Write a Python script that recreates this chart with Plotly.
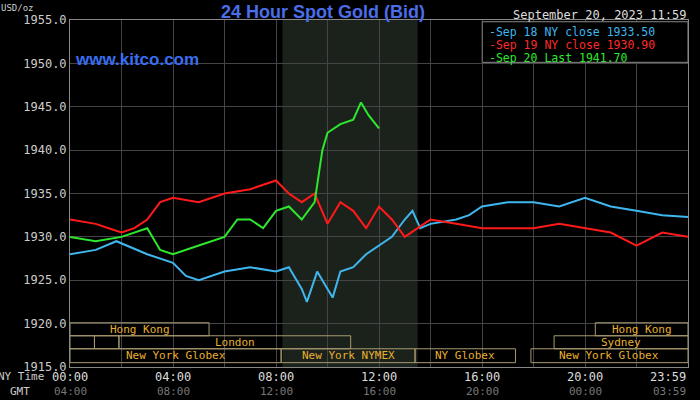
import plotly.graph_objects as go

# hours since 00:00 NY time
sep18_t = [0, 1, 1.8, 3, 4, 4.5, 5, 6, 7, 8, 8.5, 9, 9.2, 9.6, 10, 10.2, 10.5, 11, 11.5, 12,
           12.5, 13, 13.3, 13.6, 14, 15, 15.5, 16, 17, 18, 19, 20, 21, 22, 23, 24]
sep18_v = [1928, 1928.5, 1929.5, 1928, 1927, 1925.5, 1925, 1926, 1926.5, 1926, 1926.5, 1924,
           1922.5, 1926, 1924, 1923, 1926, 1926.5, 1928, 1929, 1930, 1932, 1933, 1931, 1931.5,
           1932, 1932.5, 1933.5, 1934, 1934, 1933.5, 1934.5, 1933.5, 1933, 1932.5, 1932.3]
sep19_t = [0, 1, 1.5, 2, 2.5, 3, 3.5, 4, 5, 6, 7, 7.5, 8, 8.5, 9, 9.5, 10, 10.5, 11, 11.5, 12,
           12.5, 13, 13.5, 14, 15, 16, 17, 18, 19, 20, 21, 22, 23, 24]
sep19_v = [1932, 1931.5, 1931, 1930.5, 1931, 1932, 1934, 1934.5, 1934, 1935, 1935.5, 1936,
           1936.5, 1935, 1934, 1935, 1931.5, 1934, 1933, 1931, 1933.5, 1932, 1930, 1931, 1932,
           1931.5, 1931, 1931, 1931, 1931.5, 1931, 1930.5, 1929, 1930.5, 1930]
sep20_t = [0, 1, 2, 3, 3.5, 4, 5, 6, 6.5, 7, 7.5, 8, 8.5, 9, 9.5, 9.8, 10, 10.5, 11, 11.3, 11.6, 12]
sep20_v = [1930, 1929.5, 1930, 1931, 1928.5, 1928, 1929, 1930, 1932, 1932, 1931, 1933, 1933.5,
           1932, 1934, 1940, 1942, 1943, 1943.5, 1945.5, 1944, 1942.5]

tick_hours = [0, 4, 8, 12, 16, 20, 24]
ny_labels = ["00:00", "04:00", "08:00", "12:00", "16:00", "20:00", "23:59"]
gmt_labels = ["04:00", "08:00", "12:00", "16:00", "20:00", "00:00", "03:59"]
y_ticks = [1915, 1920, 1925, 1930, 1935, 1940, 1945, 1950, 1955]

# sessions: (row, start, end, label)
sessions = [(0, 0, 5.4, "Hong Kong"), (0, 20.4, 24, "Hong Kong"),
            (1, 0, 0.95, ""), (1, 0.95, 1.9, ""), (1, 1.9, 10.9, "London"), (1, 18.8, 24, "Sydney"),
            (2, 0, 8.2, "New York Globex"), (2, 8.2, 13.4, "New York NYMEX"),
            (2, 13.4, 17.3, "NY Globex"), (2, 17.9, 24, "New York Globex")]
row_y = [(1920.1, 1918.6), (1918.6, 1917.1), (1917.1, 1915.5)]

MONO = "DejaVu Sans Mono"
fig = go.Figure()
fig.add_trace(go.Scatter(x=sep18_t, y=sep18_v, mode="lines", line=dict(color="#3fb6ee", width=2)))
fig.add_trace(go.Scatter(x=sep19_t, y=sep19_v, mode="lines", line=dict(color="#ff1a1a", width=2)))
fig.add_trace(go.Scatter(x=sep20_t, y=sep20_v, mode="lines", line=dict(color="#2ee82e", width=2)))

shapes = [dict(type="rect", xref="x", yref="paper", x0=8.25, x1=13.5, y0=0, y1=1,
               fillcolor="#1b221b", line_width=0, layer="below")]
ann = []
for row, a, b, lab in sessions:
    y0, y1 = row_y[row]
    shapes.append(dict(type="rect", x0=a, x1=b, y0=y1, y1=y0, line=dict(color="#a89a70", width=1)))
    if lab:
        ann.append(dict(x=(a + b) / 2, y=(y0 + y1) / 2, text=lab, showarrow=False,
                        font=dict(family=MONO, size=11, color="#e8b030")))
for h, n, g in zip(tick_hours, ny_labels, gmt_labels):
    anchor = "right" if h == 24 else "center"
    ann.append(dict(x=h, y=-0.003, yref="paper", yanchor="top", xanchor=anchor, text=n,
                    showarrow=False, font=dict(family=MONO, size=12, color="#dddddd")))
    ann.append(dict(x=h, y=-0.047, yref="paper", yanchor="top", xanchor=anchor, text=g,
                    showarrow=False, font=dict(family=MONO, size=11, color="#777777")))
ann += [
    dict(x=0, xref="paper", xanchor="right", xshift=-24, y=-0.003, yref="paper", yanchor="top",
         text="NY Time", showarrow=False, font=dict(family=MONO, size=11, color="#cccccc")),
    dict(x=0, xref="paper", xanchor="right", xshift=-38, y=-0.047, yref="paper", yanchor="top",
         text="GMT", showarrow=False, font=dict(family=MONO, size=11, color="#cccccc")),
    dict(x=0, y=1.0, xref="paper", yref="paper", xanchor="right", yanchor="bottom", xshift=-34,
         yshift=5, text="USD/oz", showarrow=False, font=dict(family=MONO, size=9, color="#cccccc")),
    dict(x=0.41, y=1.0, xref="paper", yref="paper", yanchor="bottom", yshift=-4,
         text="<b>24 Hour Spot Gold (Bid)</b>", showarrow=False,
         font=dict(family="Liberation Sans", size=18, color="#4a6ee8")),
    dict(x=0.005, y=0.92, xref="paper", yref="paper", xanchor="left",
         text="<b>www.kitco.com</b>", showarrow=False,
         font=dict(family="Liberation Sans", size=17, color="#3a6ef0")),
    dict(x=1.0, y=1.0, xref="paper", yref="paper", xanchor="right", yanchor="bottom", yshift=-4,
         text="September 20, 2023 11:59", showarrow=False,
         font=dict(family=MONO, size=12, color="#dddddd")),
]
shapes.append(dict(type="rect", xref="paper", yref="paper", x0=0.667, x1=1.0, y0=0.878, y1=0.995,
                   fillcolor="black", line=dict(color="#888888", width=1)))
for i, (txt, col) in enumerate([("-Sep 18 NY close 1933.50", "#3fb6ee"),
                                ("-Sep 19 NY close 1930.90", "#ff2a2a"),
                                ("-Sep 20 Last 1941.70", "#2ee82e")]):
    ann.append(dict(x=0.675, y=0.99 - i * 0.037, xref="paper", yref="paper", xanchor="left",
                    yanchor="top", text=txt, showarrow=False,
                    font=dict(family=MONO, size=11.5, color=col)))

fig.update_layout(
    width=700, height=400, paper_bgcolor="black", plot_bgcolor="black", showlegend=False,
    margin=dict(l=70, r=12, t=20, b=33, autoexpand=False), shapes=shapes, annotations=ann,
    xaxis=dict(range=[0, 24], tickvals=[0, 2, 4, 6, 8, 10, 12, 14, 16, 18, 20, 22, 24],
               showticklabels=False, gridcolor="#444444", zeroline=False,
               showline=True, linecolor="#888888", mirror=True),
    yaxis=dict(range=[1915, 1955], tickvals=y_ticks, tickformat=".1f", gridcolor="#444444",
               zeroline=False, showline=True, linecolor="#888888", mirror=True,
               tickfont=dict(family=MONO, size=12, color="#cccccc")),
)
# drop the page's default body margin so the 700x400 figure fills the window
fig.write_html("out.html", config={"displayModeBar": False},
               post_script="document.body.style.margin='0';document.body.style.background='black';")
